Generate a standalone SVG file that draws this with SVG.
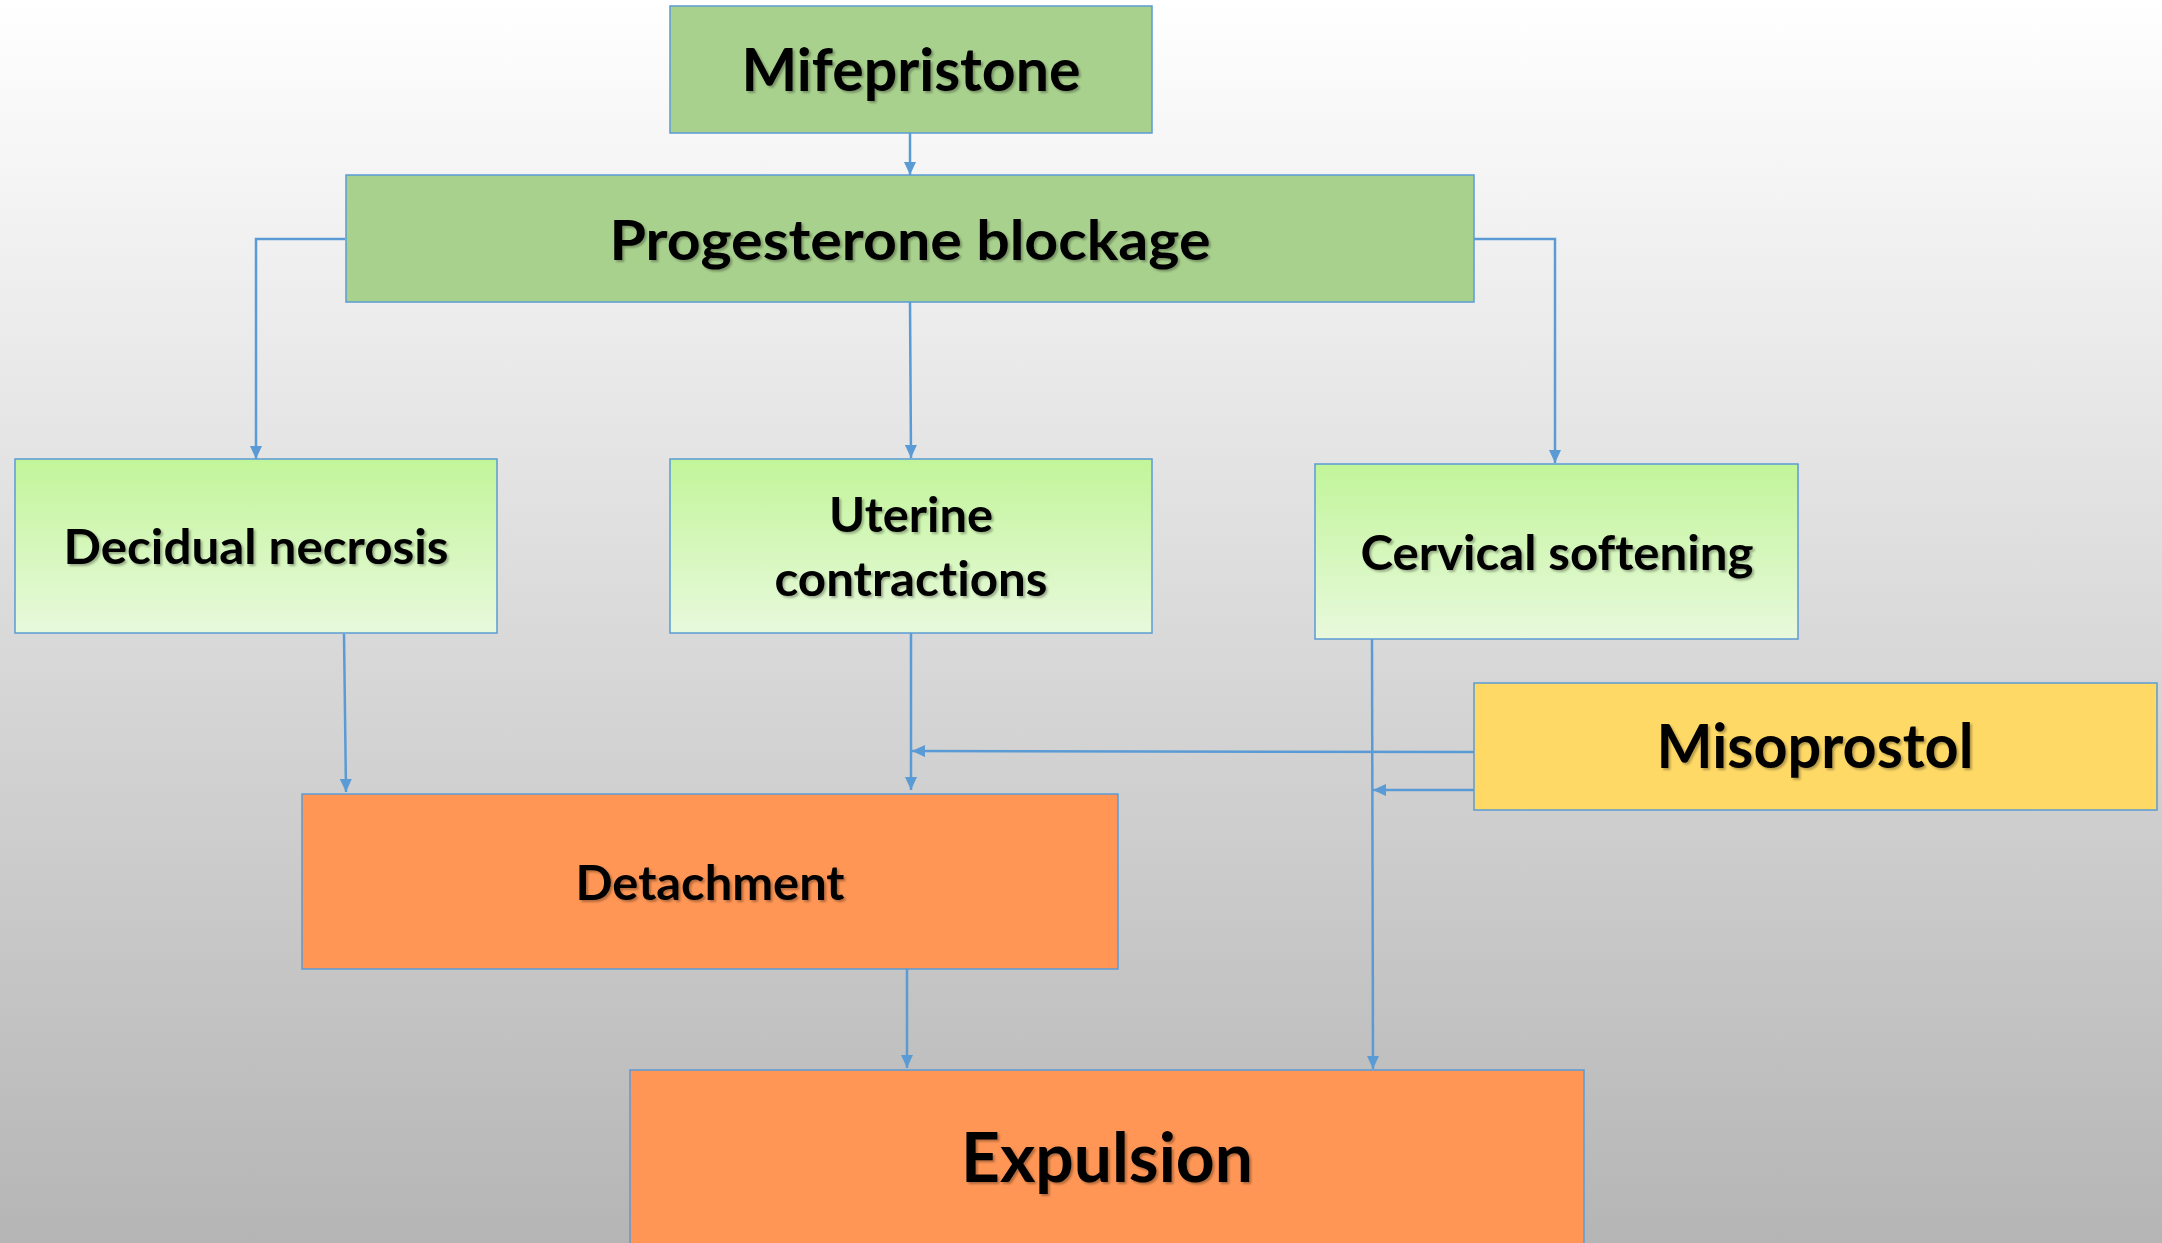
<svg xmlns="http://www.w3.org/2000/svg" width="2162" height="1243" viewBox="0 0 2162 1243">
<defs>
<linearGradient id="bg" x1="0" y1="0" x2="0" y2="1">
<stop offset="0" stop-color="#ffffff"/>
<stop offset="1" stop-color="#b5b5b5"/>
</linearGradient>
<linearGradient id="lg" x1="0" y1="0" x2="0" y2="1">
<stop offset="0" stop-color="#c2f59a"/>
<stop offset="1" stop-color="#e8f9dc"/>
</linearGradient>
<filter id="sh" x="-5%" y="-20%" width="110%" height="140%">
<feDropShadow dx="2" dy="2" stdDeviation="1.2" flood-color="#000" flood-opacity="0.3"/>
</filter>
<marker id="ah" markerUnits="userSpaceOnUse" markerWidth="14" markerHeight="12" refX="13" refY="6" orient="auto">
<path d="M0,0 L13,6 L0,12 z" fill="#5b9bd5"/>
</marker>
</defs>
<style>
.box{stroke:#5b9bd5;stroke-width:1.5}
.dk{fill:#a9d18e}
.lt{fill:url(#lg)}
.yl{fill:#ffd966}
.or{fill:#ff9655}
.t{font-family:Lato,"Open Sans","Liberation Sans",sans-serif;font-weight:bold;fill:#000;text-anchor:middle;filter:url(#sh);font-variant-ligatures:none;font-feature-settings:"liga" 0}
.c{fill:none;stroke:#5b9bd5;stroke-width:2.5;marker-end:url(#ah)}
</style>
<rect x="0" y="0" width="2162" height="1243" fill="url(#bg)"/>

<g id="connectors">
<path class="c" d="M910,133 L910,175"/>
<path class="c" d="M345,239 L256,239 L256,459"/>
<path class="c" d="M910,302 L911,458"/>
<path class="c" d="M1474,239 L1555,239 L1555,463"/>
<path class="c" d="M344,634 L346,792"/>
<path class="c" d="M911,631 L911,790"/>
<path class="c" d="M1474,752 L912,751"/>
<path class="c" d="M1474,790 L1373,790"/>
<path class="c" d="M1372,639 L1373,1069"/>
<path class="c" d="M907,969 L907,1068"/>
</g>

<g id="mifepristone">
<rect class="box dk" x="670" y="6" width="482" height="127"/>
<text class="t" x="911" y="91" font-size="60" textLength="339" lengthAdjust="spacingAndGlyphs">Mifepristone</text>
</g>
<g id="progesterone">
<rect class="box dk" x="346" y="175" width="1128" height="127"/>
<text class="t" x="910" y="260" font-size="56" textLength="601" lengthAdjust="spacingAndGlyphs">Progesterone blockage</text>
</g>
<g id="decidual">
<rect class="box lt" x="15" y="459" width="482" height="174"/>
<text class="t" x="256" y="564" font-size="47" textLength="385" lengthAdjust="spacingAndGlyphs">Decidual necrosis</text>
</g>
<g id="uterine">
<rect class="box lt" x="670" y="459" width="482" height="174"/>
<text class="t" x="911" y="532" font-size="47" textLength="164" lengthAdjust="spacingAndGlyphs">Uterine</text>
<text class="t" x="911" y="596" font-size="47" textLength="273" lengthAdjust="spacingAndGlyphs">contractions</text>
</g>
<g id="cervical">
<rect class="box lt" x="1315" y="464" width="483" height="175"/>
<text class="t" x="1557" y="570" font-size="48" textLength="393" lengthAdjust="spacingAndGlyphs">Cervical softening</text>
</g>
<g id="misoprostol">
<rect class="box yl" x="1474" y="683" width="683" height="127"/>
<text class="t" x="1815" y="768" font-size="62" textLength="317" lengthAdjust="spacingAndGlyphs">Misoprostol</text>
</g>
<g id="detachment">
<rect class="box or" x="302" y="794" width="816" height="175"/>
<text class="t" x="710" y="900" font-size="48" textLength="269" lengthAdjust="spacingAndGlyphs">Detachment</text>
</g>
<g id="expulsion">
<rect class="box or" x="630" y="1070" width="954" height="190"/>
<text class="t" x="1107" y="1182" font-size="68" textLength="292" lengthAdjust="spacingAndGlyphs">Expulsion</text>
</g>
</svg>
